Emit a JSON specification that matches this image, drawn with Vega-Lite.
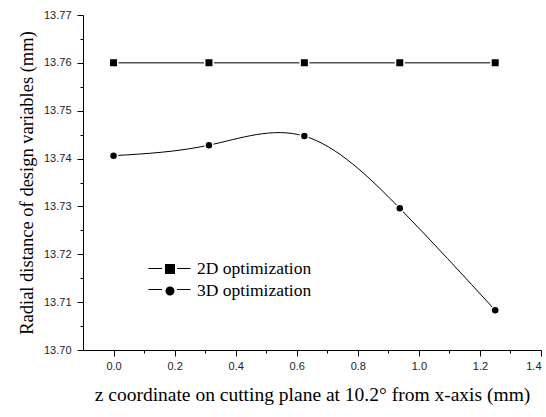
{
  "$schema": "https://vega.github.io/schema/vega-lite/v6.json",
  "width": 458,
  "height": 335,
  "autosize": "none",
  "padding": {"left": 83, "top": 15, "right": 5, "bottom": 67},
  "background": "white",
  "config": {
    "view": {"stroke": null},
    "axis": {"titleFont": "Liberation Serif", "titleFontWeight": "normal", "titleColor": "black",
      "labelFont": "Liberation Sans", "labelFontSize": 11, "labelColor": "#222", "grid": false,
      "domainColor": "black", "tickColor": "black"}
  },
  "data": {"values": [
    {"z": 0, "r": 13.76, "series": "2D optimization"},
    {"z": 0.3125, "r": 13.76, "series": "2D optimization"},
    {"z": 0.625, "r": 13.76, "series": "2D optimization"},
    {"z": 0.9375, "r": 13.76, "series": "2D optimization"},
    {"z": 1.25, "r": 13.76, "series": "2D optimization"},
    {"z": 0, "r": 13.7406, "series": "3D optimization"},
    {"z": 0.3125, "r": 13.7428, "series": "3D optimization"},
    {"z": 0.625, "r": 13.7447, "series": "3D optimization"},
    {"z": 0.9375, "r": 13.7296, "series": "3D optimization"},
    {"z": 1.25, "r": 13.7083, "series": "3D optimization"}
  ]},
  "encoding": {
    "x": {"field": "z", "type": "quantitative",
      "scale": {"domain": [-0.1, 1.4], "nice": false, "zero": false}, "axis": null},
    "y": {"field": "r", "type": "quantitative",
      "scale": {"domain": [13.70, 13.77], "nice": false, "zero": false}, "axis": null}
  },
  "layer": [
    {
      "mark": {"type": "line", "interpolate": "natural", "color": "black", "strokeWidth": 1},
      "encoding": {
        "detail": {"field": "series"},
        "x": {"field": "z", "type": "quantitative",
          "scale": {"domain": [-0.1, 1.4], "nice": false, "zero": false},
          "axis": {"orient": "bottom", "values": [0, 0.2, 0.4, 0.6, 0.8, 1.0, 1.2, 1.4], "format": ".1f",
            "tickSize": 6, "labelPadding": 4,
            "title": "z coordinate on cutting plane at 10.2° from x-axis (mm)",
            "titleFont": "Liberation Serif", "titleFontSize": 19.5, "titleFontWeight": "normal", "titlePadding": 14}},
        "y": {"field": "r", "type": "quantitative",
          "scale": {"domain": [13.70, 13.77], "nice": false, "zero": false},
          "axis": {"orient": "left", "values": [13.70, 13.71, 13.72, 13.73, 13.74, 13.75, 13.76, 13.77], "format": ".2f",
            "tickSize": 6, "labelPadding": 6,
            "title": "Radial distance of design variables (mm)",
            "titleFont": "Liberation Serif", "titleFontSize": 18.5, "titleFontWeight": "normal", "titlePadding": 7}}
      }
    },
    {
      "mark": {"type": "point", "filled": true, "fill": "black", "stroke": "white", "strokeWidth": 1.5, "opacity": 1},
      "encoding": {
        "shape": {"field": "series", "type": "nominal",
          "scale": {"domain": ["2D optimization", "3D optimization"], "range": ["square", "circle"]},
          "legend": null},
        "size": {"condition": {"test": "datum.series == '2D optimization'", "value": 72}, "value": 64}
      }
    },
    {
      "transform": [{"filter": "false"}],
      "mark": {"type": "point", "filled": false, "color": "black", "strokeWidth": 1},
      "encoding": {
        "shape": {"field": "series", "type": "nominal",
          "scale": {"domain": ["2D optimization", "3D optimization"],
            "range": ["M-2.1,0H-0.75M0.75,0H2.1", "M-2.1,0H-0.75M0.75,0H2.1"]},
          "legend": {"title": null, "orient": "none", "legendX": 76, "legendY": 243,
            "labelFont": "Liberation Serif", "labelFontSize": 17.5, "labelColor": "black", "labelOffset": 16,
            "labelOpacity": 0,
            "symbolSize": 400, "rowPadding": 2, "symbolOpacity": 1,
            "symbolStrokeColor": "black", "symbolStrokeWidth": 1}
        }
      }
    },
    {
      "transform": [{"filter": "false"}],
      "mark": {"type": "point", "filled": true, "color": "black"},
      "encoding": {
        "shape": {"field": "series", "type": "nominal",
          "scale": {"domain": ["2D optimization", "3D optimization"],
            "range": ["M-0.5,-0.5H0.5V0.5H-0.5Z", "M-0.45,0A0.45,0.45 0 1,1 0.45,0A0.45,0.45 0 1,1 -0.45,0Z"]},
          "legend": {"title": null, "orient": "none", "legendX": 76, "legendY": 243,
            "labelFont": "Liberation Serif", "labelFontSize": 17.5, "labelColor": "black", "labelOffset": 16,
            "symbolSize": 400, "rowPadding": 2, "symbolOpacity": 1,
            "symbolFillColor": "black"}
        }
      }
    },
    {
      "mark": {"type": "point", "opacity": 0},
      "encoding": {
        "x": {"field": "z", "type": "quantitative",
          "scale": {"domain": [-0.1, 1.4], "nice": false, "zero": false},
          "axis": {"orient": "bottom", "values": [0.1, 0.3, 0.5, 0.7, 0.9, 1.1, 1.3], "labels": false, "domain": false,
            "tickSize": 3, "title": null}},
        "y": {"field": "r", "type": "quantitative",
          "scale": {"domain": [13.70, 13.77], "nice": false, "zero": false},
          "axis": {"orient": "left", "values": [13.705, 13.715, 13.725, 13.735, 13.745, 13.755, 13.765], "labels": false, "domain": false,
            "tickSize": 3, "title": null}}
      }
    }
  ],
  "resolve": {"axis": {"x": "independent", "y": "independent"}, "scale": {"shape": "independent"}}
}
